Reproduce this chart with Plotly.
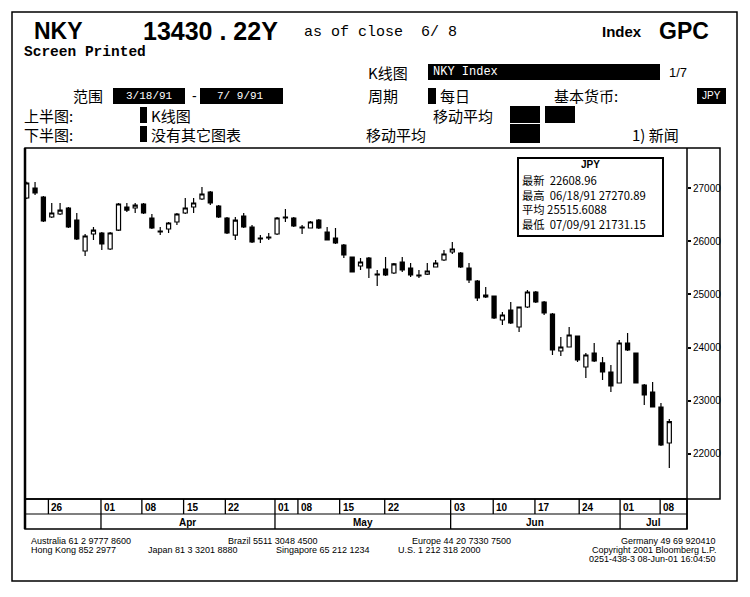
import plotly.graph_objects as go

# ---------------- data ----------------
open_ = [26812, 27000, 26830, 26455, 26511, 26624, 26398, 25816, 26135, 26154,
         25853, 26210, 26643, 26624, 26699, 26436, 26191, 26229, 26361, 26530,
         26643, 26793, 26925, 26662, 26436, 26116, 26474, 26267, 26060, 26060,
         26135, 26455, 26436, 26267, 26248, 26398, 26173, 26060, 25929, 25703,
         25534, 25684, 25383, 25477, 25402, 25609, 25496, 25365, 25383, 25515,
         25647, 25797, 25778, 25496, 25252, 24989, 24970, 24519, 24707, 24387,
         24763, 25045, 24857, 24632, 23936, 24011, 24218, 23635, 23898, 23711,
         23541, 23335, 24086, 23898, 23297, 23165, 22883, 22207]
high = [27119, 27113, 26849, 26718, 26718, 26643, 26530, 26135, 26267, 26173,
        26173, 26718, 26718, 26718, 26718, 26511, 26267, 26361, 26530, 26812,
        26812, 27019, 26944, 26680, 26455, 26455, 26530, 26304, 26116, 26154,
        26455, 26605, 26455, 26304, 26380, 26417, 26267, 26248, 25947, 25703,
        25684, 25703, 25459, 25703, 25590, 25703, 25590, 25459, 25590, 25647,
        25835, 25985, 25797, 25590, 25271, 25139, 24970, 24669, 24857, 24763,
        25083, 25064, 24876, 24650, 24199, 24387, 24218, 23898, 24086, 23823,
        23673, 24143, 24274, 23898, 23316, 23353, 22959, 22658]
low = [26793, 26868, 26361, 26436, 26492, 26248, 26023, 25722, 26023, 25835,
       25835, 26191, 26549, 26530, 26511, 26229, 26116, 26154, 26304, 26511,
       26530, 26774, 26680, 26436, 26135, 26023, 26248, 25966, 25966, 26023,
       26116, 26361, 26267, 26135, 26248, 26229, 26023, 25947, 25684, 25421,
       25459, 25308, 25158, 25346, 25383, 25421, 25327, 25308, 25365, 25515,
       25628, 25759, 25496, 25214, 24876, 24932, 24538, 24425, 24444, 24293,
       24744, 24838, 24613, 23861, 23842, 24011, 23729, 23429, 23729, 23391,
       23165, 23335, 23936, 23335, 22921, 22883, 22150, 21737]
close = [27094, 26906, 26380, 26530, 26586, 26267, 26041, 26098, 26210, 25947,
         26154, 26699, 26586, 26680, 26530, 26248, 26173, 26342, 26511, 26624,
         26718, 26887, 26718, 26455, 26154, 26398, 26267, 25985, 26041, 26079,
         26436, 26436, 26286, 26248, 26361, 26248, 26023, 25966, 25741, 25421,
         25609, 25496, 25365, 25365, 25572, 25459, 25365, 25346, 25440, 25590,
         25759, 25853, 25515, 25271, 24932, 24951, 24556, 24613, 24462, 24763,
         25045, 24857, 24650, 23955, 24011, 24237, 23767, 23861, 23748, 23541,
         23278, 24086, 23955, 23335, 23109, 22883, 22169, 22609]
day_index = list(range(len(close)))

y_ticks = [22000, 23000, 24000, 25000, 26000, 27000]
day_tick_pos = [2.6, 8.9, 13.8, 18.8, 23.8, 29.75, 32.5, 37.5, 42.9, 50.8, 55.9, 60.9, 66.2, 71.1, 75.9]
day_tick_labels = ["26", "01", "08", "15", "22", "01", "08", "15", "22", "03", "10", "17", "24", "01", "08"]
month_pos = [8.9, 29.75, 50.8, 71.1]
month_end = 79.12
month_labels = ["Apr", "May", "Jun", "Jul"]

info_title = "JPY"
info_rows = ["最新  22608.96", "最高  06/18/91 27270.89", "平均 25515.6088", "最低  07/09/91 21731.15"]

# ---------------- layout helpers ----------------
# the page body has an 8px default margin, so the figure is drawn 8px in from the top-left
OFF = 8
W, H = 750 - OFF, 597 - OFF
def fx(x):
    return (x - OFF) / W
def fy(y):
    return 1 - (y - OFF) / H

CJK = "Noto Sans CJK SC, Liberation Sans, sans-serif"
SANS = "Liberation Sans, Arial, sans-serif"
MONO = "Liberation Mono, DejaVu Sans Mono, monospace"
NARROW = "Liberation Sans Narrow, Liberation Sans, Arial, sans-serif"

fig = go.Figure()
fig.add_trace(go.Candlestick(
    x=day_index, open=open_, high=high, low=low, close=close,
    increasing=dict(line=dict(color="black", width=1.2), fillcolor="white"),
    decreasing=dict(line=dict(color="black", width=1.2), fillcolor="black"),
    whiskerwidth=0, showlegend=False, hoverinfo="skip",
))

shapes = []
annotations = []

def rect(x0, y0, x1, y1, fill=None, lw=1.5, layer="above"):
    shapes.append(dict(type="rect", xref="paper", yref="paper",
                       x0=fx(x0), x1=fx(x1), y0=fy(y0), y1=fy(y1),
                       line=dict(color="black", width=lw if fill is None else 0),
                       fillcolor=fill if fill else "rgba(0,0,0,0)", layer=layer))

def line(x0, y0, x1, y1, lw=1.5):
    shapes.append(dict(type="line", xref="paper", yref="paper",
                       x0=fx(x0), x1=fx(x1), y0=fy(y0), y1=fy(y1),
                       line=dict(color="black", width=lw)))

def text(x, y, s, size=14, family=CJK, color="black", anchor="left", yanchor="middle"):
    annotations.append(dict(xref="paper", yref="paper", x=fx(x), y=fy(y), text=s,
                            showarrow=False, xanchor=anchor, yanchor=yanchor, align="left",
                            font=dict(size=size, family=family, color=color)))

# outer frame
rect(12, 12, 737, 581, lw=1.5)
# chart frame
rect(25, 148, 720, 499, lw=1.5)
line(687, 148, 687, 529, lw=1.5)
line(25, 148, 25, 529, lw=2.5)
# date band
rect(25, 499, 687, 529, lw=1.5)
line(25, 514, 687, 514, lw=1.2)
for p, lab in zip(day_tick_pos, day_tick_labels):
    shapes.append(dict(type="line", xref="x", yref="paper", x0=p, x1=p,
                       y0=fy(499), y1=fy(514), line=dict(color="black", width=1.3)))
    annotations.append(dict(xref="x", yref="paper", x=p, y=fy(507), text="<b>%s</b>" % lab,
                            showarrow=False, xanchor="left", xshift=1, yanchor="middle",
                            font=dict(size=10, family=NARROW, color="black")))
bounds = month_pos + [month_end]
for i, lab in enumerate(month_labels):
    shapes.append(dict(type="line", xref="x", yref="paper", x0=bounds[i], x1=bounds[i],
                       y0=fy(514), y1=fy(529), line=dict(color="black", width=1.3)))
    annotations.append(dict(xref="x", yref="paper", x=(bounds[i] + bounds[i + 1]) / 2, y=fy(522),
                            text="<b>%s</b>" % lab, showarrow=False, xanchor="center",
                            yanchor="middle", font=dict(size=10, family=NARROW, color="black")))

# header
text(32, 31, "<b>NKY</b>", size=23, family=SANS)
text(141, 31, "<b>13430 . 22Y</b>", size=25, family=SANS)
text(302, 33, "as of close  6/ 8", size=15, family=MONO)
text(600, 31, "<b>Index</b>", size=15, family=SANS)
text(657, 31, "<b>GPC</b>", size=23, family=SANS)
text(22, 52, "<b>Screen Printed</b>", size=14.5, family=MONO)

text(366, 72, "K线图", size=15)
rect(428, 64, 660, 80, fill="black")
text(431, 72, "NKY Index", size=12, family=MONO, color="white")
text(667, 72, "1/7", size=13, family=SANS)

text(71, 96, "范围", size=15)
rect(113, 88, 185, 104, fill="black")
text(149, 96, "3/18/91", size=11, family=MONO, color="white", anchor="center")
text(190, 96, "-", size=14, family=SANS)
rect(200, 88, 283, 104, fill="black")
text(241, 96, "7/ 9/91", size=11, family=MONO, color="white", anchor="center")
text(366, 96, "周期", size=15)
rect(428, 88, 436, 104, fill="black")
text(438, 96, "每日", size=15)
text(552, 96, "基本货币:", size=15)
rect(697, 88, 726, 104, fill="black")
text(711, 96, "JPY", size=10, family=SANS, color="white", anchor="center")

text(22, 115, "上半图:", size=15)
rect(140, 107, 147, 123, fill="black")
text(149, 115, "K线图", size=15)
text(431, 115, "移动平均", size=15)
rect(510, 106, 540, 123, fill="black")
rect(545, 106, 575, 123, fill="black")

text(22, 134, "下半图:", size=15)
rect(140, 126, 147, 142, fill="black")
text(149, 134, "没有其它图表", size=15)
text(364, 134, "移动平均", size=15)
rect(510, 124, 540, 143, fill="black")
text(630, 134, "1) 新闻", size=15)

# info box
rect(518, 158, 663, 236, fill="white", layer="above")
rect(518, 158, 663, 236, lw=2)
text(590, 165, "<b>%s</b>" % info_title, size=10, family=SANS, anchor="center")
text(520, 170, "<br>".join(info_rows), size=11.3, yanchor="top")

# footer
FS = 9
text(29, 541, "Australia 61 2 9777 8600", size=FS, family=SANS)
text(226, 541, "Brazil 5511 3048 4500", size=FS, family=SANS)
text(410, 541, "Europe 44 20 7330 7500", size=FS, family=SANS)
text(718, 541, "Germany 49 69 920410", size=FS, family=SANS, anchor="right")
text(29, 550, "Hong Kong 852 2977", size=FS, family=SANS)
text(146, 550, "Japan 81 3 3201 8880", size=FS, family=SANS)
text(274, 550, "Singapore 65 212 1234", size=FS, family=SANS)
text(396, 550, "U.S. 1 212 318 2000", size=FS, family=SANS)
text(718, 550, "Copyright 2001 Bloomberg L.P.", size=FS, family=SANS, anchor="right")
text(718, 559, "0251-438-3 08-Jun-01 16:04:50", size=FS, family=SANS, anchor="right")

fig.update_layout(
    width=W, height=H, margin=dict(l=0, r=0, t=0, b=0),
    paper_bgcolor="white", plot_bgcolor="white",
    shapes=shapes, annotations=annotations,
    xaxis=dict(domain=[fx(25), fx(687)], range=[-0.204, 79.12], showgrid=False,
               zeroline=False, showticklabels=False, ticks="", rangeslider=dict(visible=False),
               fixedrange=True),
    yaxis=dict(domain=[fy(499), fy(148)], range=[21154, 27752], side="right",
               tickvals=y_ticks, ticktext=[str(v) for v in y_ticks], ticks="outside",
               ticklen=3, tickwidth=1.5, tickcolor="black", showgrid=False, zeroline=False,
               tickfont=dict(size=10, family=NARROW, color="black"), fixedrange=True),
)

fig.write_html("out.html")
